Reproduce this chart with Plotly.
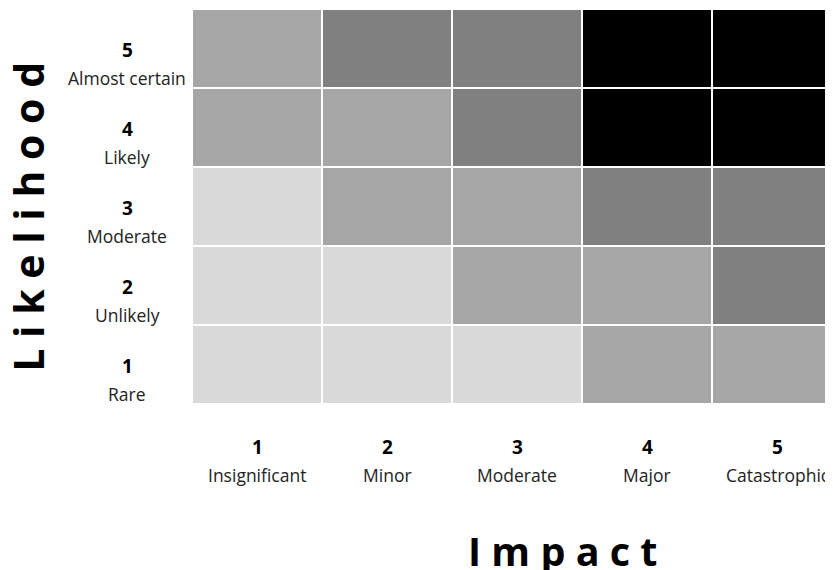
import plotly.graph_objects as go

impact_nums = ["1", "2", "3", "4", "5"]
impact_names = ["Insignificant", "Minor", "Moderate", "Major", "Catastrophic"]
likelihood_nums = ["1", "2", "3", "4", "5"]
likelihood_names = ["Rare", "Unlikely", "Moderate", "Likely", "Almost certain"]

# risk level per cell: rows = likelihood 1..5 (bottom to top), cols = impact 1..5
risk_l1 = [1, 1, 1, 2, 2]
risk_l2 = [1, 1, 2, 2, 3]
risk_l3 = [1, 2, 2, 3, 3]
risk_l4 = [2, 2, 3, 4, 4]
risk_l5 = [2, 3, 3, 4, 4]
z = [risk_l1, risk_l2, risk_l3, risk_l4, risk_l5]

level_colors = ["#d9d9d9", "#a6a6a6", "#808080", "#000000"]
colorscale = []
for i, c in enumerate(level_colors):
    colorscale.append([i / 4, c])
    colorscale.append([(i + 1) / 4, c])

xs = [1, 2, 3, 4, 5]
ys = [1, 2, 3, 4, 5]

fig = go.Figure(go.Heatmap(
    z=z, x=xs, y=ys, zmin=0.5, zmax=4.5,
    colorscale=colorscale, showscale=False,
    xgap=2, ygap=2, hoverinfo="skip",
))

FONT = "Open Sans"
ann = []
for y, n, name in zip(ys, likelihood_nums, likelihood_names):
    ann.append(dict(x=0, y=y, xref="paper", yref="y", text=f"<b>{n}</b>", showarrow=False,
                    xanchor="center", xshift=-65, yshift=-1,
                    font=dict(size=19, color="#000", family=FONT)))
    ann.append(dict(x=0, y=y, xref="paper", yref="y", text=name, showarrow=False,
                    xanchor="center", xshift=-65, yshift=-29,
                    font=dict(size=17.5, color="#222", family=FONT)))
for x, n, name in zip(xs, impact_nums, impact_names):
    ann.append(dict(x=x, y=0, xref="x", yref="paper", text=f"<b>{n}</b>", showarrow=False,
                    xanchor="center", yanchor="middle", yshift=-43,
                    font=dict(size=19, color="#000", family=FONT)))
    ann.append(dict(x=x, y=0, xref="x", yref="paper", text=name, showarrow=False,
                    xanchor="center", yanchor="middle", yshift=-71,
                    font=dict(size=17.5, color="#222", family=FONT)))

ann.append(dict(x=3.35, y=0, xref="x", yref="paper", text="<b>I m p a c t</b>", showarrow=False,
                xanchor="center", yanchor="middle", yshift=-147,
                font=dict(size=39.5, color="#000", family=FONT)))
ann.append(dict(x=0, y=2.87, xref="paper", yref="y", text="<b>L i k e l i h o o d</b>", showarrow=False,
                xanchor="center", yanchor="middle", xshift=-164, textangle=-90,
                font=dict(size=41, color="#000", family=FONT)))

fig.update_layout(
    width=825, height=562,
    margin=dict(l=184, r=0, t=1, b=166),
    paper_bgcolor="white", plot_bgcolor="white",
    xaxis=dict(range=[0.5, 5.43], showticklabels=False, showgrid=False, zeroline=False, fixedrange=True),
    yaxis=dict(range=[0.5, 5.5], showticklabels=False, showgrid=False, zeroline=False, fixedrange=True),
    annotations=ann,
    showlegend=False,
)

fig.write_html("out.html")
